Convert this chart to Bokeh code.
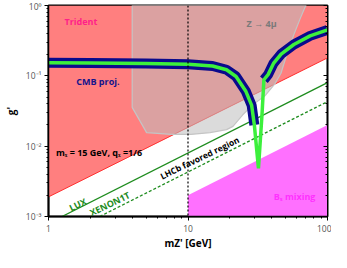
from bokeh.plotting import figure
from bokeh.models import FixedTicker, LogAxis, Span
from bokeh.core.properties import value
from bokeh.embed import file_html
from bokeh.resources import INLINE

# ---- data ----
trident_m = [1, 100]
trident_g = [0.0019, 0.18]

z4mu_m = [3.98, 3.98, 5.05, 7.6, 10.5, 14.4, 18.9, 21.0, 24.6, 28.8, 35.6, 41.8, 46.4, 51.3, 57.4, 63.8, 69.1, 70.3]
z4mu_g = [1.0, 0.0356, 0.0156, 0.0147, 0.0147, 0.0156, 0.0172, 0.0191, 0.0277, 0.038, 0.052, 0.0762, 0.109, 0.205, 0.387, 0.656, 0.95, 1.0]

bs_m = [10, 100]
bs_g = [0.002, 0.02]

lux_m = [1.25, 100]
lux_g = [0.001, 0.08]

xenon_m = [2.33, 100]
xenon_g = [0.001, 0.043]

cmb_left_m = [1, 2, 5, 10, 15, 18.9, 22.1, 25.9, 28.6, 29.9]
cmb_left_g = [0.153, 0.152, 0.15, 0.146, 0.138, 0.122, 0.098, 0.061, 0.038, 0.020]
cmb_right_m = [35.0, 37.5, 41.0, 46.5, 57.4, 75, 100]
cmb_right_g = [0.088, 0.104, 0.15, 0.204, 0.279, 0.37, 0.45]
dip_m = [29.9, 32.0, 33.9, 35.0]
dip_g = [0.020, 0.00484, 0.0277, 0.088]

y_ticks = [1e-3, 1e-2, 1e-1, 1]
y_tick_labels = ["10⁻³", "10⁻²", "10⁻¹", "10⁰"]
x_ticks = [1, 10, 100]
x_tick_labels = ["1", "10", "100"]

FONT = "Open Sans"

p = figure(width=331, height=252, x_axis_type="log", y_axis_type="log",
           x_range=(1, 100), y_range=(1e-3, 1), output_backend="svg",
           toolbar_location=None, title=None, min_border_left=45, min_border_right=4,
           min_border_top=5, min_border_bottom=33)
p.grid.visible = False
p.outline_line_color = "black"
p.outline_line_width = 2

# Trident
p.patch(trident_m + [100, 1], trident_g + [1, 1], fill_color="#ff7f7f", line_color=None)
p.line(trident_m, trident_g, line_color="#ff3030", line_width=1)
# Z -> 4mu
p.patch(z4mu_m, z4mu_g, fill_color="#bebebe", fill_alpha=0.55,
        line_color="#c4c4c4", line_width=1.2)
# Bs mixing
p.patch(bs_m + [100, 10], bs_g + [1e-3, 1e-3], fill_color="#ff70ff", line_color=None)
# LUX / XENON1T
p.line(lux_m, lux_g, line_color="#1e8c1e", line_width=1.3)
p.line(xenon_m, xenon_g, line_color="#1e8c1e", line_width=1.3, line_dash="3 2")
# dotted vertical at 10 GeV
p.add_layout(Span(location=10, dimension="height", line_color="black",
                  line_dash="2 2", line_width=1.2))
# CMB projection
p.line(cmb_left_m, cmb_left_g, line_color="#0a0a8c", line_width=10)
p.line(cmb_right_m, cmb_right_g, line_color="#0a0a8c", line_width=10)
p.line(cmb_left_m + dip_m[1:] + cmb_right_m[1:], cmb_left_g + dip_g[1:] + cmb_right_g[1:],
       line_color="#3cf03c", line_width=3.5)

# axes
minor_x = [a * d for d in (1, 10) for a in range(2, 10)]
minor_y = [a * d for d in (1e-3, 1e-2, 1e-1) for a in range(2, 10)]
p.xaxis.ticker = FixedTicker(ticks=x_ticks, minor_ticks=minor_x)
p.yaxis.ticker = FixedTicker(ticks=y_ticks, minor_ticks=minor_y)
p.xaxis.major_label_overrides = dict(zip(x_ticks, x_tick_labels))
p.yaxis.major_label_overrides = dict(zip(y_ticks, y_tick_labels))
for ax in (p.xaxis[0], p.yaxis[0]):
    ax.major_label_text_font = FONT
    ax.major_label_text_font_size = "8.5px"
    ax.major_label_text_color = "#555555"
    ax.major_label_standoff = 3
    ax.axis_line_color = "black"
    ax.axis_line_width = 1.5
    ax.major_tick_in = 0
    ax.major_tick_out = 4
    ax.minor_tick_in = 0
    ax.minor_tick_out = 2
    ax.axis_label_text_font = FONT
    ax.axis_label_text_font_style = "bold"
    ax.axis_label_text_font_size = "10px"
    ax.axis_label_text_color = "black"
    ax.axis_label_standoff = 2
p.xaxis.major_label_standoff = 4
p.xaxis.axis_label_standoff = 1
p.yaxis.axis_label_standoff = 5
p.xaxis.axis_label = "mZ' [GeV]"
p.yaxis.axis_label = "g'"

ra = LogAxis(ticker=FixedTicker(ticks=y_ticks, minor_ticks=minor_y),
             major_label_overrides={t: "" for t in y_ticks},
             major_label_text_font_size="1px", major_label_standoff=0,
             major_tick_in=4, major_tick_out=0,
             minor_tick_in=2, minor_tick_out=0, axis_line_color="black")
p.add_layout(ra, "right")

def lab(x, y, t, color, size="9px", angle=0, align="center"):
    p.text(x=[x], y=[y], text=[t], text_color=color, text_font=value(FONT),
           text_font_size=size, text_font_style="bold", angle=angle,
           text_align=align, text_baseline="middle")

lab(1.71, 0.59, "Trident", "#ff1f8a")
lab(2.26, 0.0838, "CMB proj.", "#14148c")
lab(33.7, 0.548, "Z → 4μ", "#7a7a7a")
lab(1.13, 0.0080, "mₓ = 15 GeV, qₓ =1/6", "black", align="left")
lab(41.1, 0.00193, "Bₛ mixing", "#ff30ff", align="left")
lab(12.1, 0.00686, "LHCb favored region", "black", size="8.5px", angle=0.45)
lab(1.62, 0.00148, "LUX", "#1e8c1e", angle=0.45)
lab(2.75, 0.00152, "XENON1T", "#1e8c1e", angle=0.45)

open("out.html", "w").write(file_html(p, INLINE))
